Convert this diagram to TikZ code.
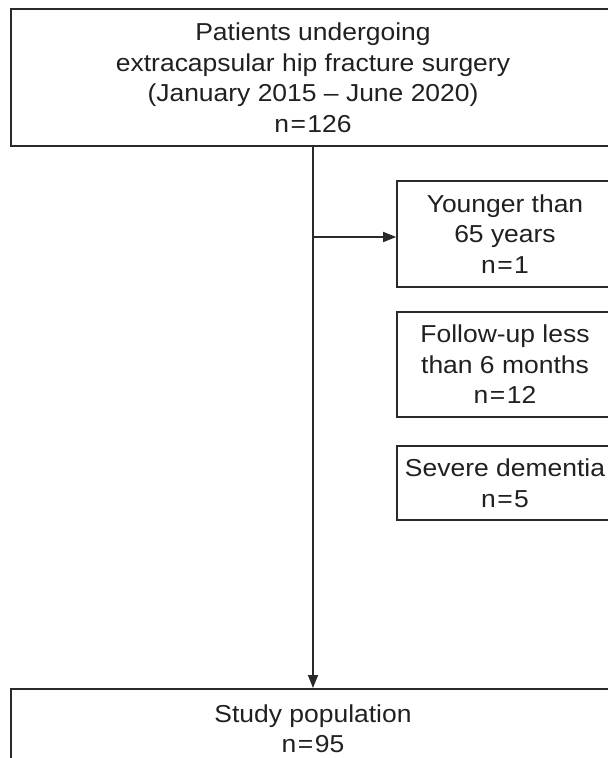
\documentclass[tikz,border=0pt]{standalone}
\usepackage{fontspec}
\setmainfont[FakeStretch=1.08]{Liberation Sans}
\usetikzlibrary{arrows.meta}
\definecolor{ink}{HTML}{231F20}
\definecolor{rule}{HTML}{2A2A2A}
\newcommand{\eq}{\kern1.5pt=\kern1.5pt}
\begin{document}
\begin{tikzpicture}[x=1pt,y=-1pt,
  box/.style={draw=rule, line width=1.6pt, align=center, inner sep=0pt,
    text=ink, font=\fontsize{24.5}{30.5}\selectfont},
  conn/.style={draw=rule, line width=1.6pt},
  arr/.style={conn, -{Triangle[length=13pt,width=10pt]}}]
\useasboundingbox (0,0) rectangle (608,758);
\clip (0,0) rectangle (608,758);
\node[box, minimum width=604pt, minimum height=137pt] (top) at (313,77.5)
  {Patients undergoing\\extracapsular hip fracture surgery\\(January 2015 – June 2020)\\n\eq126};
\node[box, minimum width=216pt, minimum height=106pt] (young) at (505,234)
  {Younger than\\65 years\\n\eq1};
\node[box, minimum width=216pt, minimum height=105pt] (follow) at (505,364.5)
  {Follow-up less\\than 6 months\\n\eq12};
\node[box, minimum width=216pt, minimum height=74pt] (severe) at (505,483)
  {Severe dementia\\n\eq5};
\node[box, minimum width=604pt, minimum height=80pt, anchor=north] (study) at (313,688)
  {Study population\\n\eq95};
\coordinate (j) at (313,237);
\draw[arr] (top.south) -- (study.north);
\draw[arr] (j) -- (young.west |- j);
\end{tikzpicture}
\end{document}
